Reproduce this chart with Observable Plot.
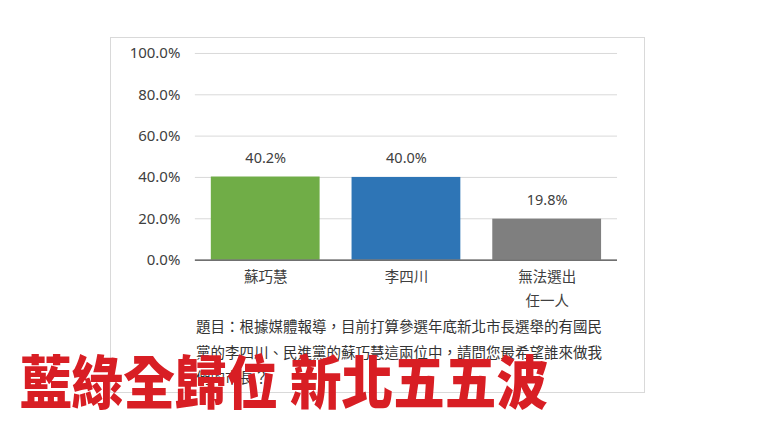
<!DOCTYPE html>
<html>
<head>
<meta charset="utf-8">
<script src="https://cdn.jsdelivr.net/npm/d3@7"></script>
<script src="https://cdn.jsdelivr.net/npm/@observablehq/plot@0.6"></script>
<style>
  html, body { margin: 0; padding: 0; background: #fff; }
  #root { position: relative; width: 768px; height: 432px; overflow: hidden; background: #fff;
          font-family: "Noto Sans CJK TC", "Noto Sans", sans-serif; }
  #box { position: absolute; left: 110px; top: 37px; width: 535px; height: 356px;
         box-sizing: border-box; border: 1px solid #d9d9d9; }
  #chart { position: absolute; left: -1px; top: -1px; }
  #question { position: absolute; left: 196px; top: 313px; font-size: 14.5px; line-height: 25.5px;
              color: #333; white-space: nowrap; }
  #headline { position: absolute; left: 20px; top: 350px; font-size: 58px; line-height: 58px;
              font-weight: 900; color: #D81E24; white-space: nowrap;
              transform: scaleX(0.89); transform-origin: left top; }
</style>
</head>
<body>
<div id="root">
  <div id="box"><div id="chart"></div></div>
  <div id="question"></div>
  <div id="headline"></div>
</div>
<script>
const categories = ["蘇巧慧", "李四川", "無法選出\n任一人"];
const values = [40.2, 40.0, 19.8];
const barColors = ["#70AD47", "#2E75B6", "#7F7F7F"];
const yTicks = [0, 20, 40, 60, 80, 100];
const questionLines = [
  "題目：根據媒體報導，目前打算參選年底新北市長選舉的有國民",
  "黨的李四川、民進黨的蘇巧慧這兩位中，請問您最希望誰來做我",
  "們的市長？"
];
const headline = "藍綠全歸位 新北五五波";

const data = categories.map((c, i) => ({cat: c, val: values[i], color: barColors[i]}));
const pct = d => d.toFixed(1) + "%";

const plot = Plot.plot({
  width: 535,
  height: 310,
  marginLeft: 85,
  marginRight: 27,
  marginTop: 16,
  marginBottom: 87,
  style: {fontFamily: '"Noto Sans", "Noto Sans CJK TC", sans-serif', background: "transparent"},
  x: {domain: categories, paddingInner: 0.227, paddingOuter: 0.1135, axis: null},
  y: {domain: [0, 100], axis: null},
  color: {type: "identity"},
  marks: [
    Plot.gridY(yTicks.filter(t => t > 0), {stroke: "#d9d9d9", strokeOpacity: 1, strokeWidth: 1}),
    Plot.axisY(yTicks, {tickSize: 0, tickPadding: 15, tickFormat: pct, fontSize: 15, fill: "#404040", label: null}),
    Plot.barY(data, {x: "cat", y: "val", fill: "color"}),
    Plot.ruleY([0], {stroke: "#404040", strokeWidth: 1.3}),
    Plot.text(data, {x: "cat", y: "val", text: d => pct(d.val), dy: -19, fontSize: 14.5, fill: "#404040"}),
    Plot.text(data, {x: "cat", y: 0, text: "cat", dy: 5, lineAnchor: "top", lineHeight: 1.65,
                     fontSize: 14.5, fill: "#404040", fontFamily: '"Noto Sans CJK TC", sans-serif'})
  ]
});
document.getElementById("chart").appendChild(plot);
document.getElementById("question").innerHTML = questionLines.join("<br>");
document.getElementById("headline").textContent = headline;
</script>
</body>
</html>
